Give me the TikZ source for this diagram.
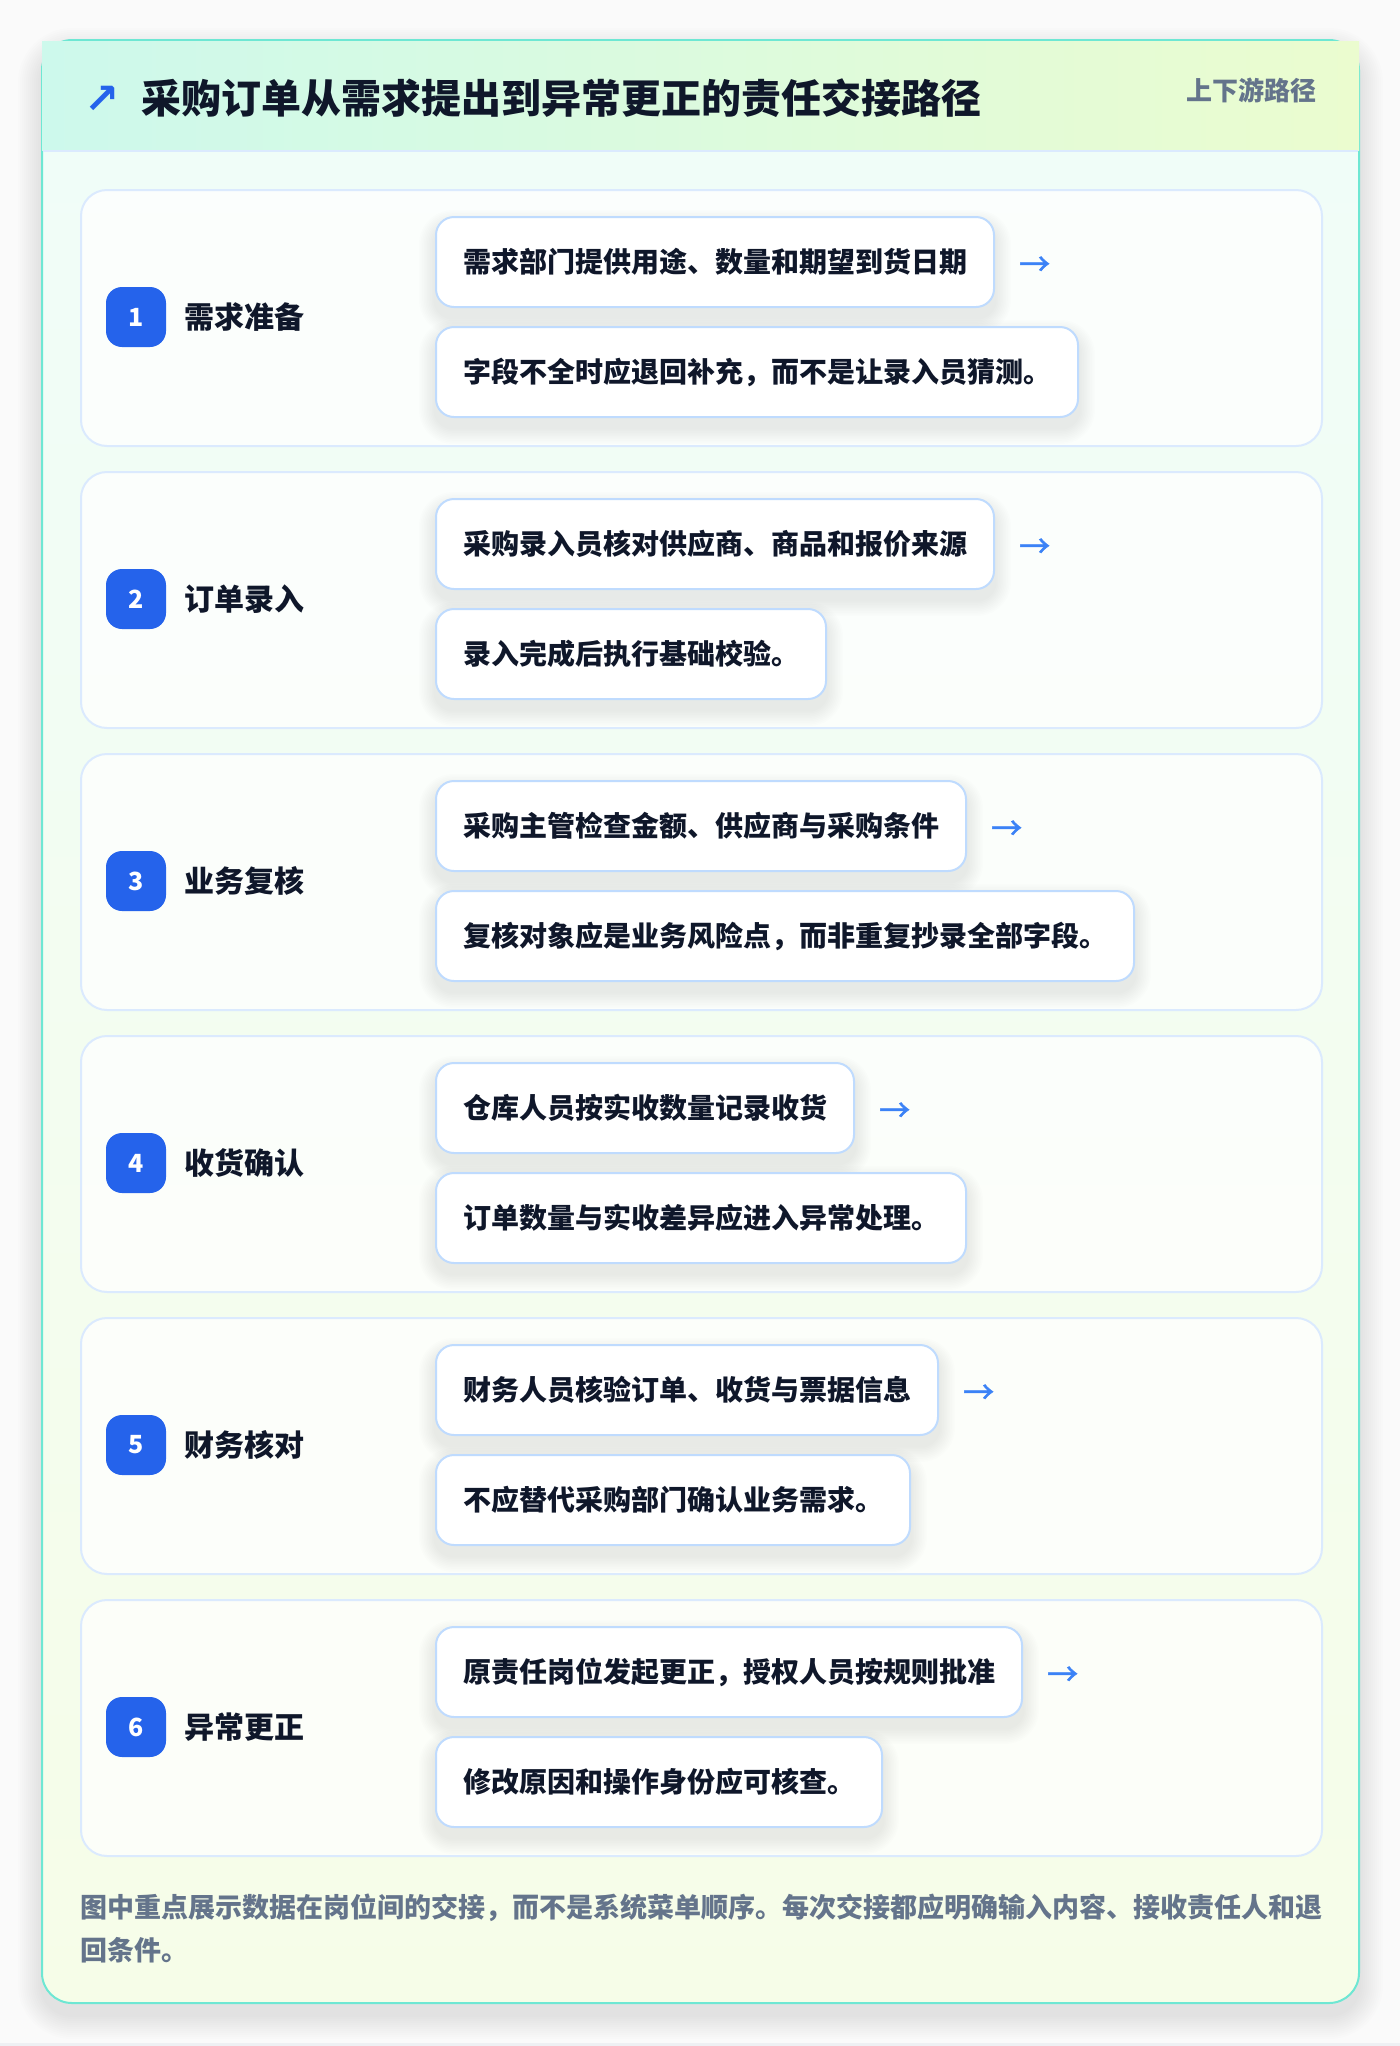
\documentclass[tikz,border=0pt]{standalone}
\usepackage{fontspec}
\setmainfont{Noto Sans CJK SC}
\newfontfamily\symfont{DejaVu Sans}
\newfontfamily\arrowfont{Noto Sans CJK SC}[FakeBold=1.6]
\usetikzlibrary{calc}
\pgfdeclarelayer{back}
\pgfdeclarelayer{shadow}
\pgfsetlayers{back,shadow,main}
\definecolor{ink}{HTML}{0F172A}
\definecolor{slate}{HTML}{64748B}
\definecolor{badge}{HTML}{2563EB}
\definecolor{arrowc}{HTML}{3B82F6}
\definecolor{tealline}{HTML}{6EE7D3}
\definecolor{hdrL}{HTML}{CDF9EC}
\definecolor{hdrR}{HTML}{EBFCCF}
\definecolor{bodyT}{HTML}{F0FDF9}
\definecolor{bodyB}{HTML}{F6FDE8}
\definecolor{cardline}{HTML}{DBEAFE}
\definecolor{boxline}{HTML}{BFDBFE}
\definecolor{pagebg}{HTML}{FAFAFA}
\definecolor{pagestrip}{HTML}{EEF0F3}
\tikzset{
  stepcard/.style={draw=cardline, line width=2pt, fill=white, fill opacity=0.75, rounded corners=26pt, minimum width=1241pt, minimum height=256pt, inner sep=0pt, anchor=north west},
  numbadge/.style={fill=badge, rounded corners=16pt, minimum width=60pt, minimum height=60pt, inner sep=0pt, text=white, font=\bfseries\fontsize{25}{25}\selectfont},
  steplabel/.style={anchor=west, inner sep=0pt, text=ink, font=\bfseries\fontsize{30}{36}\selectfont},
  taskbox/.style={draw=boxline, line width=2pt, fill=white, rounded corners=18pt, inner xsep=27pt, inner ysep=0pt, minimum height=90pt, anchor=west, text=ink, font=\bfseries\fontsize{28}{34}\selectfont},
  flowarrow/.style={anchor=west, inner sep=0pt, text=arrowc, font=\arrowfont\fontsize{31}{31}\selectfont},
  notetext/.style={anchor=base west, inner sep=0pt, text=slate, font=\bfseries\fontsize{27}{43}\selectfont},
}
\begin{document}
\begin{tikzpicture}[x=1pt,y=-1pt]
\useasboundingbox (0,0) rectangle (1400,2046);
\begin{pgfonlayer}{back}
  \fill[pagebg] (0,0) rectangle (1400,2046);
  \fill[pagestrip] (0,2043) rectangle (1400,2046);
  % soft shadow of the outer card
  \foreach \k in {1,...,12} {
    \pgfmathsetmacro\rr{30+2*\k}
    \fill[black, fill opacity=0.006, rounded corners=\rr pt] (42-2*\k, 52-2*\k) rectangle (1359+2*\k, 2015+2*\k);
  }
  % outer card
  \path[draw=tealline, line width=2pt, rounded corners=30pt, top color=bodyT, bottom color=bodyB] (42,40) rectangle (1359,2003);
  % header
  \shade[left color=hdrL, right color=hdrR] (42,41) rectangle (1359,150);
  \draw[cardline, line width=2pt] (43,151) -- (1358,151);
  % step cards
  \foreach \i in {1,...,6} {
    \pgfmathsetmacro\ty{189+282*(\i-1)}
    \node[stepcard] (card\i) at (80,\ty) {};
  }
\end{pgfonlayer}

% header texts
\node[anchor=center, inner sep=0pt, text=badge, font=\symfont\bfseries\fontsize{42}{42}\selectfont] (titlearrow) at (102,100) {↗};
\node[anchor=west, inner sep=0pt, text=ink, font=\bfseries\fontsize{40}{48}\selectfont] (title) at (141,98) {采购订单从需求提出到异常更正的责任交接路径};
\node[anchor=east, inner sep=0pt, text=slate, font=\bfseries\fontsize{26}{30}\selectfont] (tag) at (1317,90) {上下游路径};

% rows
\foreach \i/\lab/\a/\b in {
  1/需求准备/需求部门提供用途、数量和期望到货日期/字段不全时应退回补充，而不是让录入员猜测。,
  2/订单录入/采购录入员核对供应商、商品和报价来源/录入完成后执行基础校验。,
  3/业务复核/采购主管检查金额、供应商与采购条件/复核对象应是业务风险点，而非重复抄录全部字段。,
  4/收货确认/仓库人员按实收数量记录收货/订单数量与实收差异应进入异常处理。,
  5/财务核对/财务人员核验订单、收货与票据信息/不应替代采购部门确认业务需求。,
  6/异常更正/原责任岗位发起更正，授权人员按规则批准/修改原因和操作身份应可核查。} {
  \pgfmathsetmacro\ty{189+282*(\i-1)}
  \node[numbadge] (badge\i) at (136,\ty+128) {\i};
  \node[steplabel] (label\i) at (184,\ty+128) {\lab};
  \node[taskbox] (boxa\i) at (435,\ty+73) {\a};
  \node[taskbox] (boxb\i) at (435,\ty+183) {\b};
  \node[flowarrow, yshift=-4pt] (arr\i) at ([xshift=24pt]boxa\i.east) {→};
  \begin{pgfonlayer}{shadow}
    \foreach \k in {1,...,10} {
      \pgfmathsetmacro\rr{18+1.6*\k}
      \fill[black, fill opacity=0.007, rounded corners=\rr pt] ($(boxa\i.south west)+(-1.6*\k,10+1.6*\k)$) rectangle ($(boxa\i.north east)+(1.6*\k,10-1.6*\k)$);
      \fill[black, fill opacity=0.007, rounded corners=\rr pt] ($(boxb\i.south west)+(-1.6*\k,10+1.6*\k)$) rectangle ($(boxb\i.north east)+(1.6*\k,10-1.6*\k)$);
    }
  \end{pgfonlayer}
}

% footer note
\node[notetext] (note1) at (80,1917) {图中重点展示数据在岗位间的交接，而不是系统菜单顺序。每次交接都应明确输入内容、接收责任人和退};
\node[notetext] (note2) at (80,1960) {回条件。};
\end{tikzpicture}
\end{document}
